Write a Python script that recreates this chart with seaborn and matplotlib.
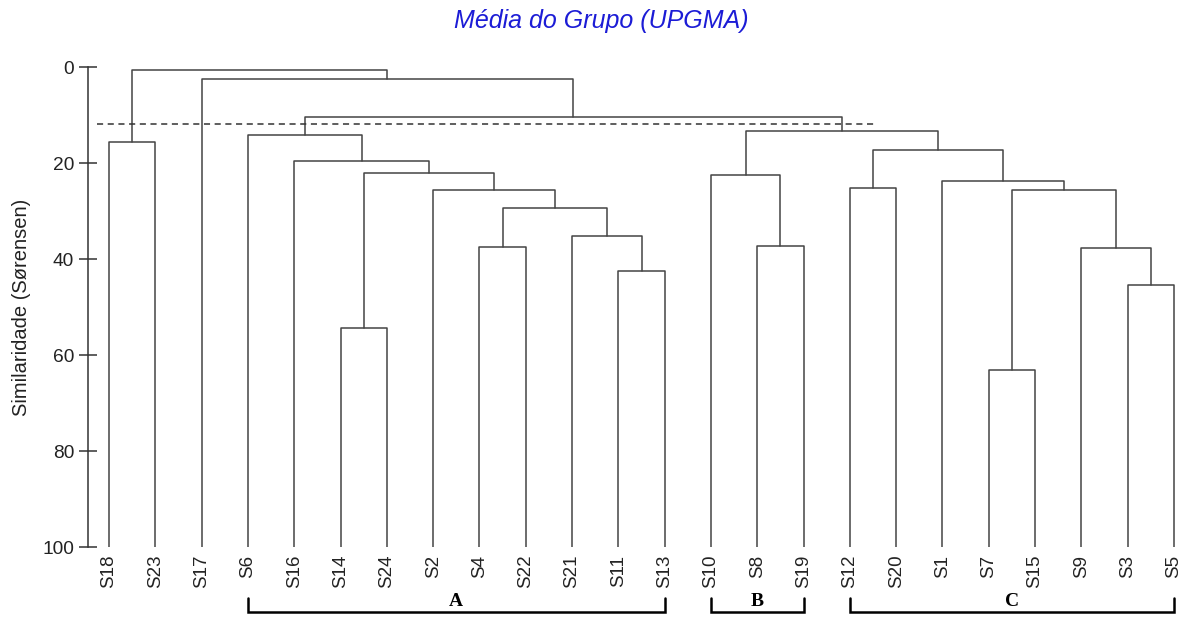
import numpy as np
import pandas as pd
import matplotlib
matplotlib.use("Agg")
import matplotlib.pyplot as plt
import seaborn as sns

# ---------------- data ----------------
leaves = ["S18", "S23", "S17", "S6", "S16", "S14", "S24", "S2", "S4", "S22",
          "S21", "S11", "S13", "S10", "S8", "S19", "S12", "S20", "S1", "S7",
          "S15", "S9", "S3", "S5"]

merge_left = ["S14", "S11", "S21", "S4", "m3", "S2", "m0", "S16", "S6",
              "S8", "S10", "S12", "S7", "S3", "S9", "m12", "S1", "m11",
              "m10", "m8", "S17", "S18", "m21"]
merge_right = ["S24", "S13", "m1", "S22", "m2", "m4", "m5", "m6", "m7",
               "S19", "m9", "S20", "S15", "S5", "m13", "m14", "m15", "m16",
               "m17", "m18", "m19", "S23", "m20"]
merge_height = [54.4, 42.6, 35.2, 37.6, 29.4, 25.6, 22.1, 19.5, 14.1,
                37.2, 22.5, 25.2, 63.2, 45.4, 37.8, 25.7, 23.7, 17.2,
                13.3, 10.35, 2.5, 15.6, 0.6]

cut_level = 11.8

group_labels = ["A", "B", "C"]
group_first = ["S6", "S10", "S12"]
group_last = ["S13", "S19", "S5"]

title = "Média do Grupo (UPGMA)"
ylabel = "Similaridade (Sørensen)"
yticks = [0, 20, 40, 60, 80, 100]

# ---------------- build link segments ----------------
pos = {name: float(i) for i, name in enumerate(leaves)}
hgt = {name: 100.0 for name in leaves}
rows = []
for k, (l, r, h) in enumerate(zip(merge_left, merge_right, merge_height)):
    pts = [(pos[l], hgt[l]), (pos[l], h), (pos[r], h), (pos[r], hgt[r])]
    for order, (x, y) in enumerate(pts):
        rows.append({"x": x, "y": y, "link": k, "order": order})
    mid = f"m{k}"
    pos[mid] = (pos[l] + pos[r]) / 2.0
    hgt[mid] = h
links = pd.DataFrame(rows)

# ---------------- plot ----------------
sns.set_style("white")
plt.rcParams["font.family"] = ["Liberation Sans", "DejaVu Sans"]

W, H = 1186, 618
fig = plt.figure(figsize=(W / 100, H / 100), dpi=100)
ax = fig.add_axes([88 / W, (H - 547) / H, (W - 88) / W, 480 / H])

line_col = "#444444"
sns.lineplot(data=links, x="x", y="y", units="link", estimator=None,
             sort=False, color=line_col, linewidth=1.1, ax=ax, legend=False)

# cut line
ax.hlines(cut_level, -0.26, 16.55, colors="#333333", linestyles=(0, (4, 3)),
          linewidth=1.1, zorder=3)

ax.set_xlim(-0.455, 23.26)
ax.set_ylim(100, 0)

# axes styling
for s in ["top", "right", "bottom"]:
    ax.spines[s].set_visible(False)
ax.spines["left"].set_color("#333333")
ax.spines["left"].set_linewidth(1.1)
ax.spines["left"].set_bounds(0, 100)

ax.set_yticks(yticks)
ax.set_yticklabels([str(t) for t in yticks])
ax.tick_params(axis="y", direction="inout", length=13, width=1.1,
               color="#333333", labelsize=13.8, labelcolor="#222222", pad=3.5,
               left=True)
ax.set_xticks(range(len(leaves)))
ax.set_xticklabels(leaves, rotation=90, va="top")
ax.tick_params(axis="x", length=0, labelsize=13.5, labelcolor="#222222",
               pad=5.5)
ax.set_xlabel("")
ax.set_ylabel(ylabel, fontsize=14.5, color="#222222", labelpad=8)
ax.grid(False)

# group brackets
trans = ax.get_xaxis_transform()
y_top = (547 - 598) / 480
y_bot = (547 - 612) / 480
for lab, a, b in zip(group_labels, group_first, group_last):
    xa, xb = pos[a], pos[b]
    ax.plot([xa, xa, xb, xb], [y_top, y_bot, y_bot, y_top], transform=trans,
            color="black", linewidth=1.8, clip_on=False,
            solid_joinstyle="miter")
    ax.text((xa + xb) / 2, y_bot + 0.004, lab, transform=trans, ha="center",
            va="bottom", fontsize=14, fontweight="bold",
            family=["Liberation Serif", "DejaVu Serif"], color="black")

fig.text(601 / W, 1 - 21 / H, title, ha="center", va="center", fontsize=18,
         style="italic", color="#1c1cd6")

fig.savefig("out.png", dpi=100)
